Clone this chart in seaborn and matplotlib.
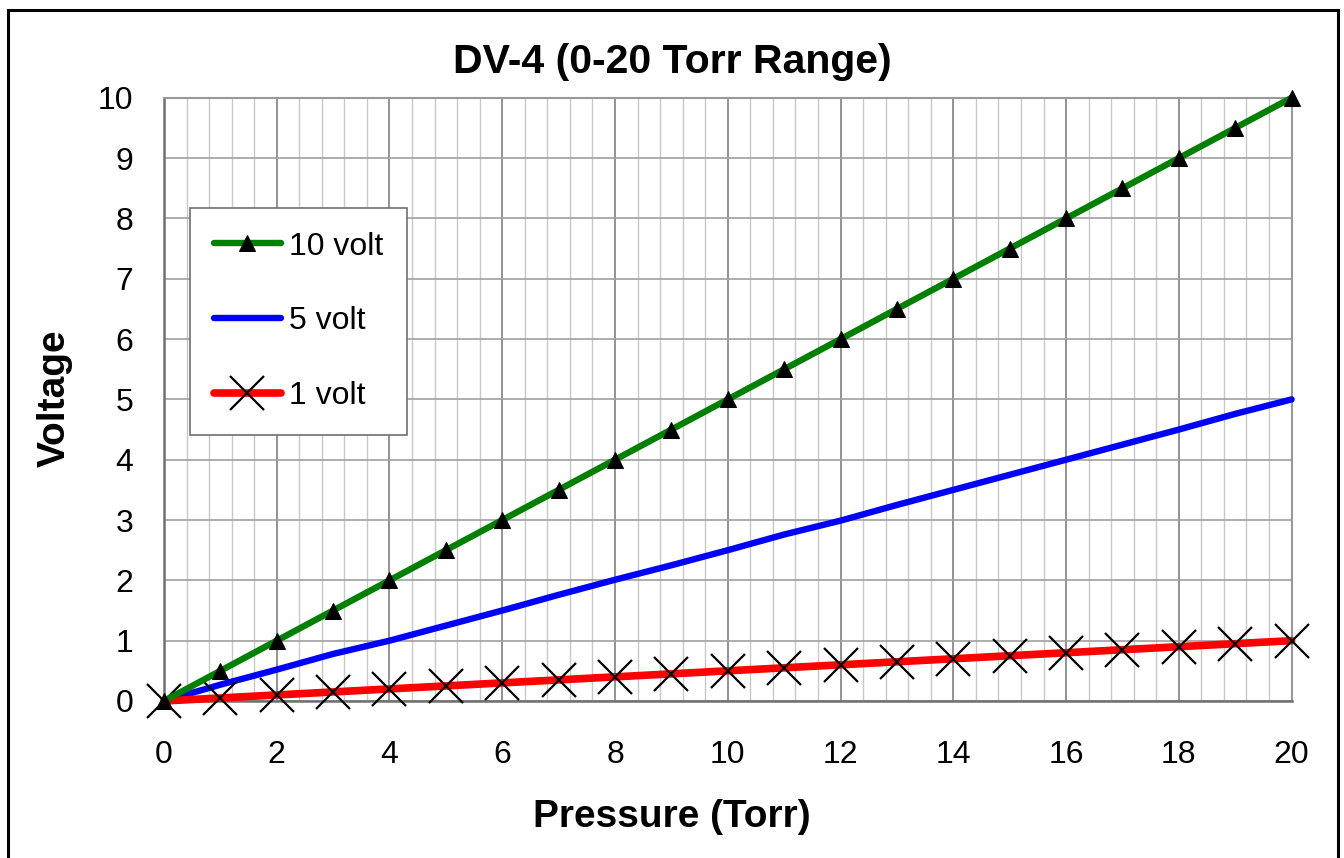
import numpy as np
import pandas as pd
import matplotlib
matplotlib.use("Agg")
import matplotlib.pyplot as plt
from matplotlib.patches import Rectangle
from matplotlib.ticker import MultipleLocator
import seaborn as sns

# data
pressure = [0, 1, 2, 3, 4, 5, 6, 7, 8, 9, 10, 11, 12, 13, 14, 15, 16, 17, 18, 19, 20]
volt_10 = [0, 0.5, 1, 1.5, 2, 2.5, 3, 3.5, 4, 4.5, 5, 5.5, 6, 6.5, 7, 7.5, 8, 8.5, 9, 9.5, 10]
volt_5 = [0, 0.27, 0.52, 0.78, 1.0, 1.25, 1.5, 1.76, 2.01, 2.25, 2.5, 2.76, 2.99, 3.25, 3.5, 3.75, 4.0, 4.25, 4.5, 4.76, 5.0]
volt_1 = [0, 0.05, 0.1, 0.15, 0.2, 0.25, 0.3, 0.35, 0.4, 0.45, 0.5, 0.55, 0.6, 0.65, 0.7, 0.75, 0.8, 0.85, 0.9, 0.95, 1.0]

sns.set_style("white")
plt.rcParams["font.family"] = ["Liberation Sans", "DejaVu Sans"]
plt.rcParams["text.color"] = "black"
plt.rcParams["axes.labelcolor"] = "black"
plt.rcParams["xtick.color"] = "black"
plt.rcParams["ytick.color"] = "black"

fig = plt.figure(figsize=(13.44, 8.58), dpi=100)
ax = fig.add_axes([0.122, 0.183, 0.839, 0.703])

# outer chart border
fig.patches.append(Rectangle((8 / 1344, -0.01), 1330 / 1344, 1 - 10 / 858 + 0.01,
                             transform=fig.transFigure, fill=False,
                             edgecolor="black", linewidth=2.2))

df = pd.DataFrame({"p": pressure, "v10": volt_10, "v5": volt_5, "v1": volt_1})

sns.lineplot(data=df, x="p", y="v10", ax=ax, color="#008000", linewidth=4.6,
             marker="^", markersize=12, markerfacecolor="black",
             markeredgecolor="black", label="10 volt", zorder=4, clip_on=False)
sns.lineplot(data=df, x="p", y="v5", ax=ax, color="#0000ff", linewidth=4.6,
             label="5 volt", zorder=3, clip_on=False)
sns.lineplot(data=df, x="p", y="v1", ax=ax, color="#ff0000", linewidth=5.5,
             marker="x", markersize=24, markeredgecolor="black",
             markeredgewidth=1.6, label="1 volt", zorder=3, clip_on=False)

ax.set_xlim(0, 20)
ax.set_ylim(0, 10)
ax.xaxis.set_major_locator(MultipleLocator(2))
ax.xaxis.set_minor_locator(MultipleLocator(0.4))
ax.yaxis.set_major_locator(MultipleLocator(1))

ax.grid(True, which="major", axis="x", color="#808080", linewidth=1.2)
ax.grid(True, which="minor", axis="x", color="#c8c8c8", linewidth=1.0)
ax.grid(True, which="major", axis="y", color="#a0a0a0", linewidth=1.2)
ax.set_axisbelow(True)

for s in ["top", "right"]:
    ax.spines[s].set_color("#999999")
    ax.spines[s].set_linewidth(1.5)
for s in ["left", "bottom"]:
    ax.spines[s].set_color("#707070")
    ax.spines[s].set_linewidth(1.8)

ax.tick_params(axis="both", which="major", direction="out", length=9, width=1.2,
               color="#707070", labelsize=23)
ax.tick_params(axis="x", which="major", pad=19)
ax.tick_params(axis="y", which="major", pad=13)
ax.tick_params(axis="x", which="minor", length=0)

ax.set_xlabel("")
ax.set_ylabel("")
fig.text(0.5, 1 - 73 / 858, "DV-4 (0-20 Torr Range)", fontsize=29.5,
         fontweight="bold", ha="center", va="baseline")
fig.text(0.5, 1 - 827 / 858, "Pressure (Torr)", fontsize=28,
         fontweight="bold", ha="center", va="baseline")
fig.text(55 / 1344, 1 - 398 / 858, "Voltage", fontsize=28, fontweight="bold",
         rotation=90, ha="center", va="center")

leg = ax.legend(loc="upper left", bbox_to_anchor=(0.023, 0.818), fontsize=23,
                handlelength=2.1, labelspacing=1.4, handletextpad=0.25,
                borderpad=0.75, fancybox=False, framealpha=1, borderaxespad=0)
leg.get_frame().set_edgecolor("#707070")
leg.get_frame().set_linewidth(1.2)

fig.savefig("out.png", dpi=100)
